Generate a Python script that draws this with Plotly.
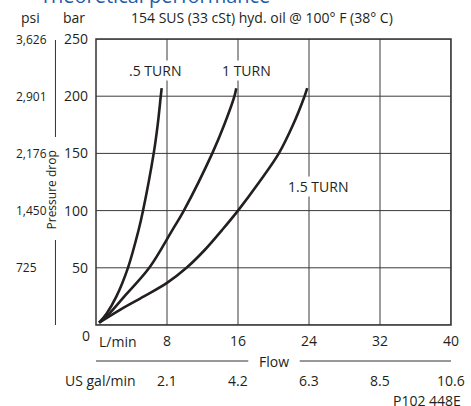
import plotly.graph_objects as go

# ---- data ----
flow_ticks = [8, 16, 24, 32, 40]
gal_labels = ["2.1", "4.2", "6.3", "8.5", "10.6"]
bar_ticks = [0, 50, 100, 150, 200, 250]
psi_labels = ["", "725", "1,450", "2,176", "2,901", "3,626"]

half_flow = [0.35, 1.2, 2.3, 3.6, 4.8, 5.3, 6.5, 6.95, 7.3, 7.4]
half_dp = [2, 10, 25, 50, 83, 100, 150, 175, 200, 207]
one_flow = [0.35, 1.5, 3.2, 6.0, 8.6, 9.9, 13.1, 14.45, 15.6, 15.8]
one_dp = [2, 10, 25, 50, 83, 100, 150, 175, 200, 207]
onehalf_flow = [0.35, 2.75, 5.4, 8.0, 10.2, 12.3, 14.2, 16.0, 18.4, 20.6, 22.2, 23.5, 23.8]
onehalf_dp = [2, 13.5, 25, 36.8, 50, 66, 83, 100, 125, 150, 175, 200, 207]

curve_names = [".5 TURN", "1 TURN", "1.5 TURN"]
label_pos = [(6.69, 222.3), (17.0, 222.3), (24.96, 120.9)]

# ---- layout helpers ----
W, H = 471, 406
L, R, T, B = 96, 16, 39, 81
PW, PH = W - L - R, H - T - B
FONT = "Open Sans"
FS = 14
TXT = "#231f20"
GRID = "#3a3a3a"


def px(x):
    return (x - L) / PW


def py(y):
    return (H - B - y) / PH


fig = go.Figure()
for fx, dp, nm in zip([half_flow, one_flow, onehalf_flow],
                      [half_dp, one_dp, onehalf_dp], curve_names):
    fig.add_trace(go.Scatter(x=fx, y=dp, mode="lines", name=nm,
                             line=dict(color="#231f20", width=2.6, shape="spline", smoothing=1.0),
                             showlegend=False, hoverinfo="skip"))

ann = []
for nm, (lx, ly) in zip(curve_names, label_pos):
    ann.append(dict(x=lx, y=ly, xref="x", yref="y", text=nm, showarrow=False,
                    bgcolor="white", borderpad=0, yanchor="middle",
                    font=dict(size=FS, color=TXT)))

# psi column
for v, t in zip(bar_ticks, psi_labels):
    if t:
        ann.append(dict(x=px(14), y=v, xref="paper", yref="y", text=t, showarrow=False,
                        xanchor="left", yanchor="middle", borderpad=0,
                        font=dict(size=12, color=TXT)))
# gal/min row
for v, t in zip(flow_ticks, gal_labels):
    ann.append(dict(x=v, y=py(380.7), xref="x", yref="paper", text=t, showarrow=False,
                    xanchor="center", yanchor="middle", font=dict(size=FS, color=TXT)))


def text_at(x, y, t, size=FS, xanchor="center", color=TXT, angle=0):
    ann.append(dict(x=px(x), y=py(y), xref="paper", yref="paper", text=t, showarrow=False,
                    xanchor=xanchor, yanchor="middle", textangle=angle,
                    font=dict(size=size, color=color, family=FONT)))


text_at(37, -4, "Theoretical performance", size=20, xanchor="left", color="#1f5ca8")
text_at(18, 17, "psi", xanchor="left")
text_at(74, 17, "bar")
text_at(264, 17, "154 SUS (33 cSt) hyd. oil @ 100° F (38° C)")
text_at(86, 335, "0")
text_at(118, 341.7, "L/min")
text_at(276, 361, "Flow")
text_at(101, 380.7, "US gal/min")
text_at(467, 400, "P102 448E", xanchor="right")
text_at(52, 190, "Pressure drop", size=12, angle=-90)

shapes = []


def line_px(x0, y0, x1, y1):
    shapes.append(dict(type="line", xref="paper", yref="paper", x0=px(x0), y0=py(y0),
                       x1=px(x1), y1=py(y1), line=dict(color="#333", width=1)))


line_px(55, 40, 55, 137)
line_px(55, 240, 55, 325)
line_px(96, 361, 250, 361)
line_px(302, 361, 455, 361)

# grid and frame as shapes, placed through the data axes
for v in flow_ticks:
    shapes.append(dict(type="line", xref="x", yref="paper", x0=v, x1=v, y0=0, y1=1,
                       layer="below", line=dict(color=GRID, width=1)))
for v in bar_ticks:
    shapes.append(dict(type="line", xref="paper", yref="y", x0=0, x1=1, y0=v, y1=v,
                       layer="below", line=dict(color=GRID, width=1)))
shapes.append(dict(type="rect", xref="paper", yref="paper", x0=0, x1=1, y0=0, y1=1,
                   layer="below", line=dict(color="#333", width=1.5)))

fig.update_layout(
    width=W, height=H, margin=dict(l=L, r=R, t=T, b=B),
    paper_bgcolor="white", plot_bgcolor="white",
    font=dict(family=FONT, size=FS, color=TXT),
    annotations=ann, shapes=shapes,
    xaxis=dict(range=[0, 40], tickvals=flow_ticks, ticks="", showgrid=False,
               showline=False, zeroline=False,
               tickfont=dict(size=FS, color=TXT), ticklabelstandoff=6, fixedrange=True),
    yaxis=dict(range=[0, 250], tickvals=bar_ticks,
               ticktext=[""] + [str(v) for v in bar_ticks[1:]], ticks="", showgrid=False,
               showline=False, zeroline=False,
               tickfont=dict(size=FS, color=TXT), ticklabelstandoff=7, fixedrange=True),
)

fig.write_html("out.html", config={"responsive": False, "displayModeBar": False},
               post_script="document.body.style.margin='0';document.body.style.overflow='hidden';")
